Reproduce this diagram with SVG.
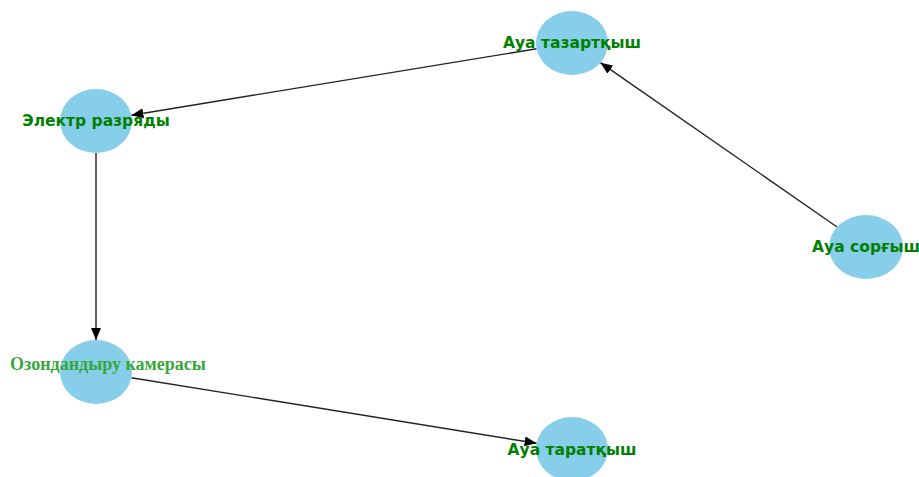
<svg xmlns="http://www.w3.org/2000/svg" width="919" height="477" viewBox="0 0 919 477">
<defs>
<marker id="arr" markerUnits="userSpaceOnUse" markerWidth="13" markerHeight="11" refX="12" refY="5" orient="auto">
<path d="M0,0 L12,5 L0,10 z" fill="#000"/>
</marker>
<style>
.n{fill:#87ceeb}
.t{font-family:"DejaVu Sans",sans-serif;font-weight:bold;font-size:15.5px;fill:#008000;text-anchor:middle}
.s{font-family:"Liberation Serif",serif;font-weight:bold;font-size:18px;fill:#36a83a;text-anchor:middle}
.e{stroke:#222;stroke-width:1.4;fill:none;marker-end:url(#arr)}
</style>
</defs>
<rect width="919" height="477" fill="#fff"/>
<g id="connectors">
<line class="e" x1="536.6" y1="48.8" x2="131.4" y2="115.2"/>
<line class="e" x1="96" y1="153" x2="96" y2="340"/>
<line class="e" x1="131.4" y1="377.7" x2="536.6" y2="443.3"/>
<line class="e" x1="837.1" y1="227" x2="600.4" y2="62.7"/>
</g>
<g id="n_tazartqysh"><ellipse class="n" cx="572" cy="43" rx="36" ry="32"/><text class="t" x="572" y="48">Ауа тазартқыш</text></g>
<g id="n_elektr"><ellipse class="n" cx="96" cy="121" rx="36" ry="32"/><text class="t" x="96" y="126">Электр разряды</text></g>
<g id="n_ozon"><ellipse class="n" cx="96" cy="372" rx="36" ry="32"/><text class="s" x="108" y="370">Озондандыру камерасы</text></g>
<g id="n_taratqysh"><ellipse class="n" cx="572" cy="449" rx="36" ry="32"/><text class="t" x="572" y="455">Ауа таратқыш</text></g>
<g id="n_sorgysh"><ellipse class="n" cx="866" cy="247" rx="37" ry="32"/><text class="t" x="866" y="252">Ауа сорғыш</text></g>
</svg>
